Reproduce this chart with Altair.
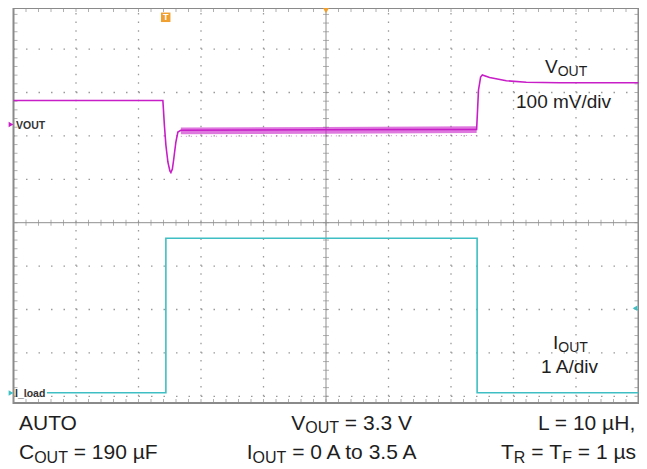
import altair as alt
import numpy as np
import pandas as pd

# ---------------- geometry of the scope screen (page pixels) ----------------
X0, X1 = 13.5, 638.5          # frame left / right
YTOP, YBOT = 8.0, 403.0       # frame top / bottom
YC = 222.7                    # centre line
DX = (X1 - X0) / 10.0         # px per horizontal division
DY = 43.4                     # px per vertical division
Y_MAX = (YC - YTOP) / DY
Y_MIN = -(YBOT - YC) / DY
W = X1 - X0
H = YBOT - YTOP
SVG_H = 461
SVG_W = 631

# ---------------- data (divisions; y = 0 is the centre line) ----------------
vout_x = [0.0, 2.390, 2.414, 2.438, 2.470, 2.502, 2.518, 2.542, 2.566, 2.598,
          2.630, 2.678, 5.000, 7.410, 7.440, 7.474, 7.501, 7.618, 7.885, 8.205,
          8.737, 10.0]
vout_y = [2.816, 2.816, 2.251, 1.790, 1.399, 1.191, 1.157, 1.237, 1.491, 1.859,
          2.090, 2.130, 2.140, 2.150, 3.058, 3.357, 3.403, 3.346, 3.272, 3.235,
          3.226, 3.226]
noise_x = [2.678, 5.000, 7.410]
noise_hi = [2.195, 2.205, 2.220]
noise_lo = [2.040, 2.050, 2.065]
spike_lo = [1.990, 2.000, 2.010]

iload_x = [0.535, 2.438, 2.438, 7.418, 7.418, 10.0]
iload_y = [-3.917, -3.917, -0.360, -0.360, -3.917, -3.917]

MAGENTA = "#c81ec8"
CYAN = "#3fbfc4"
ORANGE = "#f0a030"
GRID = "#9a9a9a"
TEXT = "#1e1e1e"
FONT = "Liberation Sans"

sx = alt.Scale(domain=[0, 10], nice=False, zero=False)
sy = alt.Scale(domain=[Y_MIN, Y_MAX], nice=False, zero=False)
X = lambda f="x": alt.X(f"{f}:Q", scale=sx, axis=None)
Y = lambda f="y": alt.Y(f"{f}:Q", scale=sy, axis=None)

# ---------------- grid ----------------
rows = pd.DataFrame({"y": [-4, -3, -2, -1, 1, 2, 3, 4], "x": 0.0, "x2": 10.0})
cols = pd.DataFrame({"x": [1, 2, 3, 4, 6, 7, 8, 9], "y": -4.0, "y2": Y_MAX})
grid_rows = alt.Chart(rows).mark_rule(color=GRID, strokeWidth=1.3,
                                      strokeDash=[1.5, DX / 5 - 1.5]).encode(
    x=X(), x2="x2:Q", y=Y())
grid_cols = alt.Chart(cols).mark_rule(color=GRID, strokeWidth=1.3,
                                      strokeDash=[1.5, DY / 5 - 1.5]).encode(
    x=X(), y=Y(), y2="y2:Q")

centre_h = alt.Chart(pd.DataFrame({"y": [0.0], "x": [0.0], "x2": [10.0]})).mark_rule(
    color="#8f8f8f", strokeWidth=1).encode(x=X(), x2="x2:Q", y=Y())
centre_v = alt.Chart(pd.DataFrame({"x": [5.0], "y": [Y_MIN], "y2": [Y_MAX]})).mark_rule(
    color="#8f8f8f", strokeWidth=1).encode(x=X(), y=Y(), y2="y2:Q")

xt = np.round(np.arange(0, 10.001, 0.2), 3)
yt = np.round(np.arange(-4.0, Y_MAX, 0.2), 3)
tick_h = alt.Chart(pd.DataFrame({"x": xt, "y": 0.0})).mark_tick(
    orient="vertical", size=6, thickness=1, color="#8f8f8f").encode(x=X(), y=Y())
tick_v = alt.Chart(pd.DataFrame({"x": 5.0, "y": yt})).mark_tick(
    orient="horizontal", size=6, thickness=1, color="#8f8f8f").encode(x=X(), y=Y())
tick_l = alt.Chart(pd.DataFrame({"x": 0.0, "y": yt})).mark_tick(
    orient="horizontal", size=4, thickness=1, xOffset=2, color="#8f8f8f").encode(x=X(), y=Y())
tick_r = alt.Chart(pd.DataFrame({"x": 10.0, "y": yt})).mark_tick(
    orient="horizontal", size=4, thickness=1, xOffset=-2, color="#8f8f8f").encode(x=X(), y=Y())
tick_t = alt.Chart(pd.DataFrame({"x": xt, "y": Y_MAX})).mark_tick(
    orient="vertical", size=4, thickness=1, yOffset=2, color="#8f8f8f").encode(x=X(), y=Y())
tick_b = alt.Chart(pd.DataFrame({"x": xt, "y": Y_MIN})).mark_tick(
    orient="vertical", size=4, thickness=1, yOffset=-2, color="#8f8f8f").encode(x=X(), y=Y())

# ---------------- traces ----------------
vdf = pd.DataFrame({"x": vout_x, "y": vout_y, "i": range(len(vout_x))})
ndf = pd.DataFrame({"x": noise_x, "hi": noise_hi, "lo": noise_lo, "sp": spike_lo})
idf = pd.DataFrame({"x": iload_x, "y": iload_y, "i": range(len(iload_x))})

noise = alt.Chart(ndf).mark_area(color=MAGENTA, opacity=0.6).encode(
    x=X(), y=Y("hi"), y2="lo:Q")
spikes = alt.Chart(ndf).mark_line(color=MAGENTA, strokeWidth=1, opacity=0.6,
                                  strokeDash=[1, 4]).encode(x=X(), y=Y("sp"))
vline = alt.Chart(vdf).mark_line(color=MAGENTA, strokeWidth=1.6).encode(
    x=X(), y=Y(), order="i:Q")
iline = alt.Chart(idf).mark_line(color=CYAN, strokeWidth=1.6).encode(
    x=X(), y=Y(), order="i:Q")

# ---------------- markers ----------------
def tx(px):
    return (px - X0) / DX


def ty(py):
    return (YC - py) / DY


trig = alt.Chart(pd.DataFrame({"x": [tx(165.7)], "y": [ty(17.3)]})).mark_square(
    filled=True, size=90, color=ORANGE, opacity=1, cornerRadius=3).encode(x=X(), y=Y())
trig_t = alt.Chart(pd.DataFrame({"x": [tx(165.7)], "y": [ty(17.3)], "t": ["T"]})).mark_text(
    font=FONT, fontSize=9, fontWeight="bold", color="white", baseline="middle").encode(
    x=X(), y=Y(), text="t:N")
trig_pos = alt.Chart(pd.DataFrame({"x": [5.0], "y": [Y_MAX]})).mark_point(
    shape="triangle-down", filled=True, size=55, color=ORANGE, opacity=1, yOffset=2).encode(x=X(), y=Y())
lvl = alt.Chart(pd.DataFrame({"x": [tx(635)], "y": [ty(308.3)]})).mark_point(
    shape="triangle-left", filled=True, size=30, color=CYAN, opacity=1).encode(x=X(), y=Y())
m_v = alt.Chart(pd.DataFrame({"x": [tx(11)], "y": [ty(124.5)]})).mark_point(
    shape="triangle-right", filled=True, size=30, color=MAGENTA, opacity=1).encode(x=X(), y=Y())
m_i = alt.Chart(pd.DataFrame({"x": [tx(11)], "y": [ty(393)]})).mark_point(
    shape="triangle-right", filled=True, size=30, color=CYAN, opacity=1).encode(x=X(), y=Y())

ch_labels = alt.Chart(pd.DataFrame({
    "x": [tx(16), tx(15)], "y": [ty(128.5), ty(397)], "t": ["VOUT", "I_load"]})).mark_text(
    font=FONT, fontSize=10.5, fontWeight="bold", color="#333333", align="left",
    baseline="alphabetic").encode(x=X(), y=Y(), text="t:N")

# ---------------- annotation text (with subscripts) ----------------
AW = {" ": 278, "=": 584, ".": 278, ",": 278, "/": 278, "A": 667, "C": 722,
      "F": 611, "H": 722, "I": 278, "L": 556, "O": 778, "R": 722, "T": 611,
      "U": 722, "V": 667, "a": 556, "d": 556, "i": 222, "m": 833, "o": 556,
      "s": 500, "t": 278, "v": 500, "µ": 576}


def tw(s, size):
    return sum(AW.get(c, 556) for c in s) * size / 1000.0


def line_pieces(parts, baseline, left=None, right=None):
    total = sum(tw(t, sz) for t, sz, dy in parts)
    x = left if left is not None else right - total
    out = []
    for t, sz, dy in parts:
        lead = len(t) - len(t.lstrip(" "))
        core = t.strip(" ")
        out.append({"x": tx(x + tw(" " * lead, sz)), "y": ty(baseline + dy), "t": core, "s": sz})
        x += tw(t, sz)
    return out


F1, S1, D1 = 19, 14, 3.0   # in-plot labels
F2, S2, D2 = 21, 16, 3.5   # caption below screen
texts = []
texts += line_pieces([("V", F1, 0), ("OUT", S1, D1)], 73, left=545)
texts += line_pieces([("100 mV/div", F1, 0)], 108, left=516)
texts += line_pieces([("I", F1, 0), ("OUT", S1, D1)], 349, left=553)
texts += line_pieces([("1 A/div", F1, 0)], 373, left=541)
texts += line_pieces([("AUTO", F2, 0)], 429.5, left=19)
texts += line_pieces([("C", F2, 0), ("OUT", S2, D2), (" = 190 µF", F2, 0)], 459, left=19)
texts += line_pieces([("V", F2, 0), ("OUT", S2, D2), (" = 3.3 V", F2, 0)], 429.5, right=412)
texts += line_pieces([("I", F2, 0), ("OUT", S2, D2), (" = 0 A to 3.5 A", F2, 0)], 459, right=420)
texts += line_pieces([("L = 10 µH,", F2, 0)], 429.5, right=636)
texts += line_pieces([("T", F2, 0), ("R", S2, D2), (" = ", F2, 0), ("T", F2, 0),
                      ("F", S2, D2), (" = 1 µs", F2, 0)], 459, right=636)
tdf = pd.DataFrame(texts)
ann = alt.Chart(tdf).mark_text(font=FONT, color=TEXT, align="left",
                               baseline="alphabetic").encode(
    x=X(), y=Y(), text="t:N", size=alt.Size("s:Q", scale=None, legend=None))

chart = alt.layer(
    grid_rows, grid_cols, centre_h, centre_v, tick_h, tick_v, tick_l, tick_r, tick_t, tick_b,
    noise, spikes, vline, iline, trig, trig_t, trig_pos, lvl, m_v, m_i, ch_labels, ann
).properties(
    width=W, height=H,
    autosize=alt.AutoSizeParams(type="none"),
    padding={"left": X0 - 8, "top": YTOP - 8, "right": SVG_W - W - (X0 - 8),
             "bottom": SVG_H - H - (YTOP - 8)},
    background="white",
).configure_view(stroke="#8a8a8a", strokeWidth=2)

chart.save("out.html", embed_options={"renderer": "svg", "actions": False})
